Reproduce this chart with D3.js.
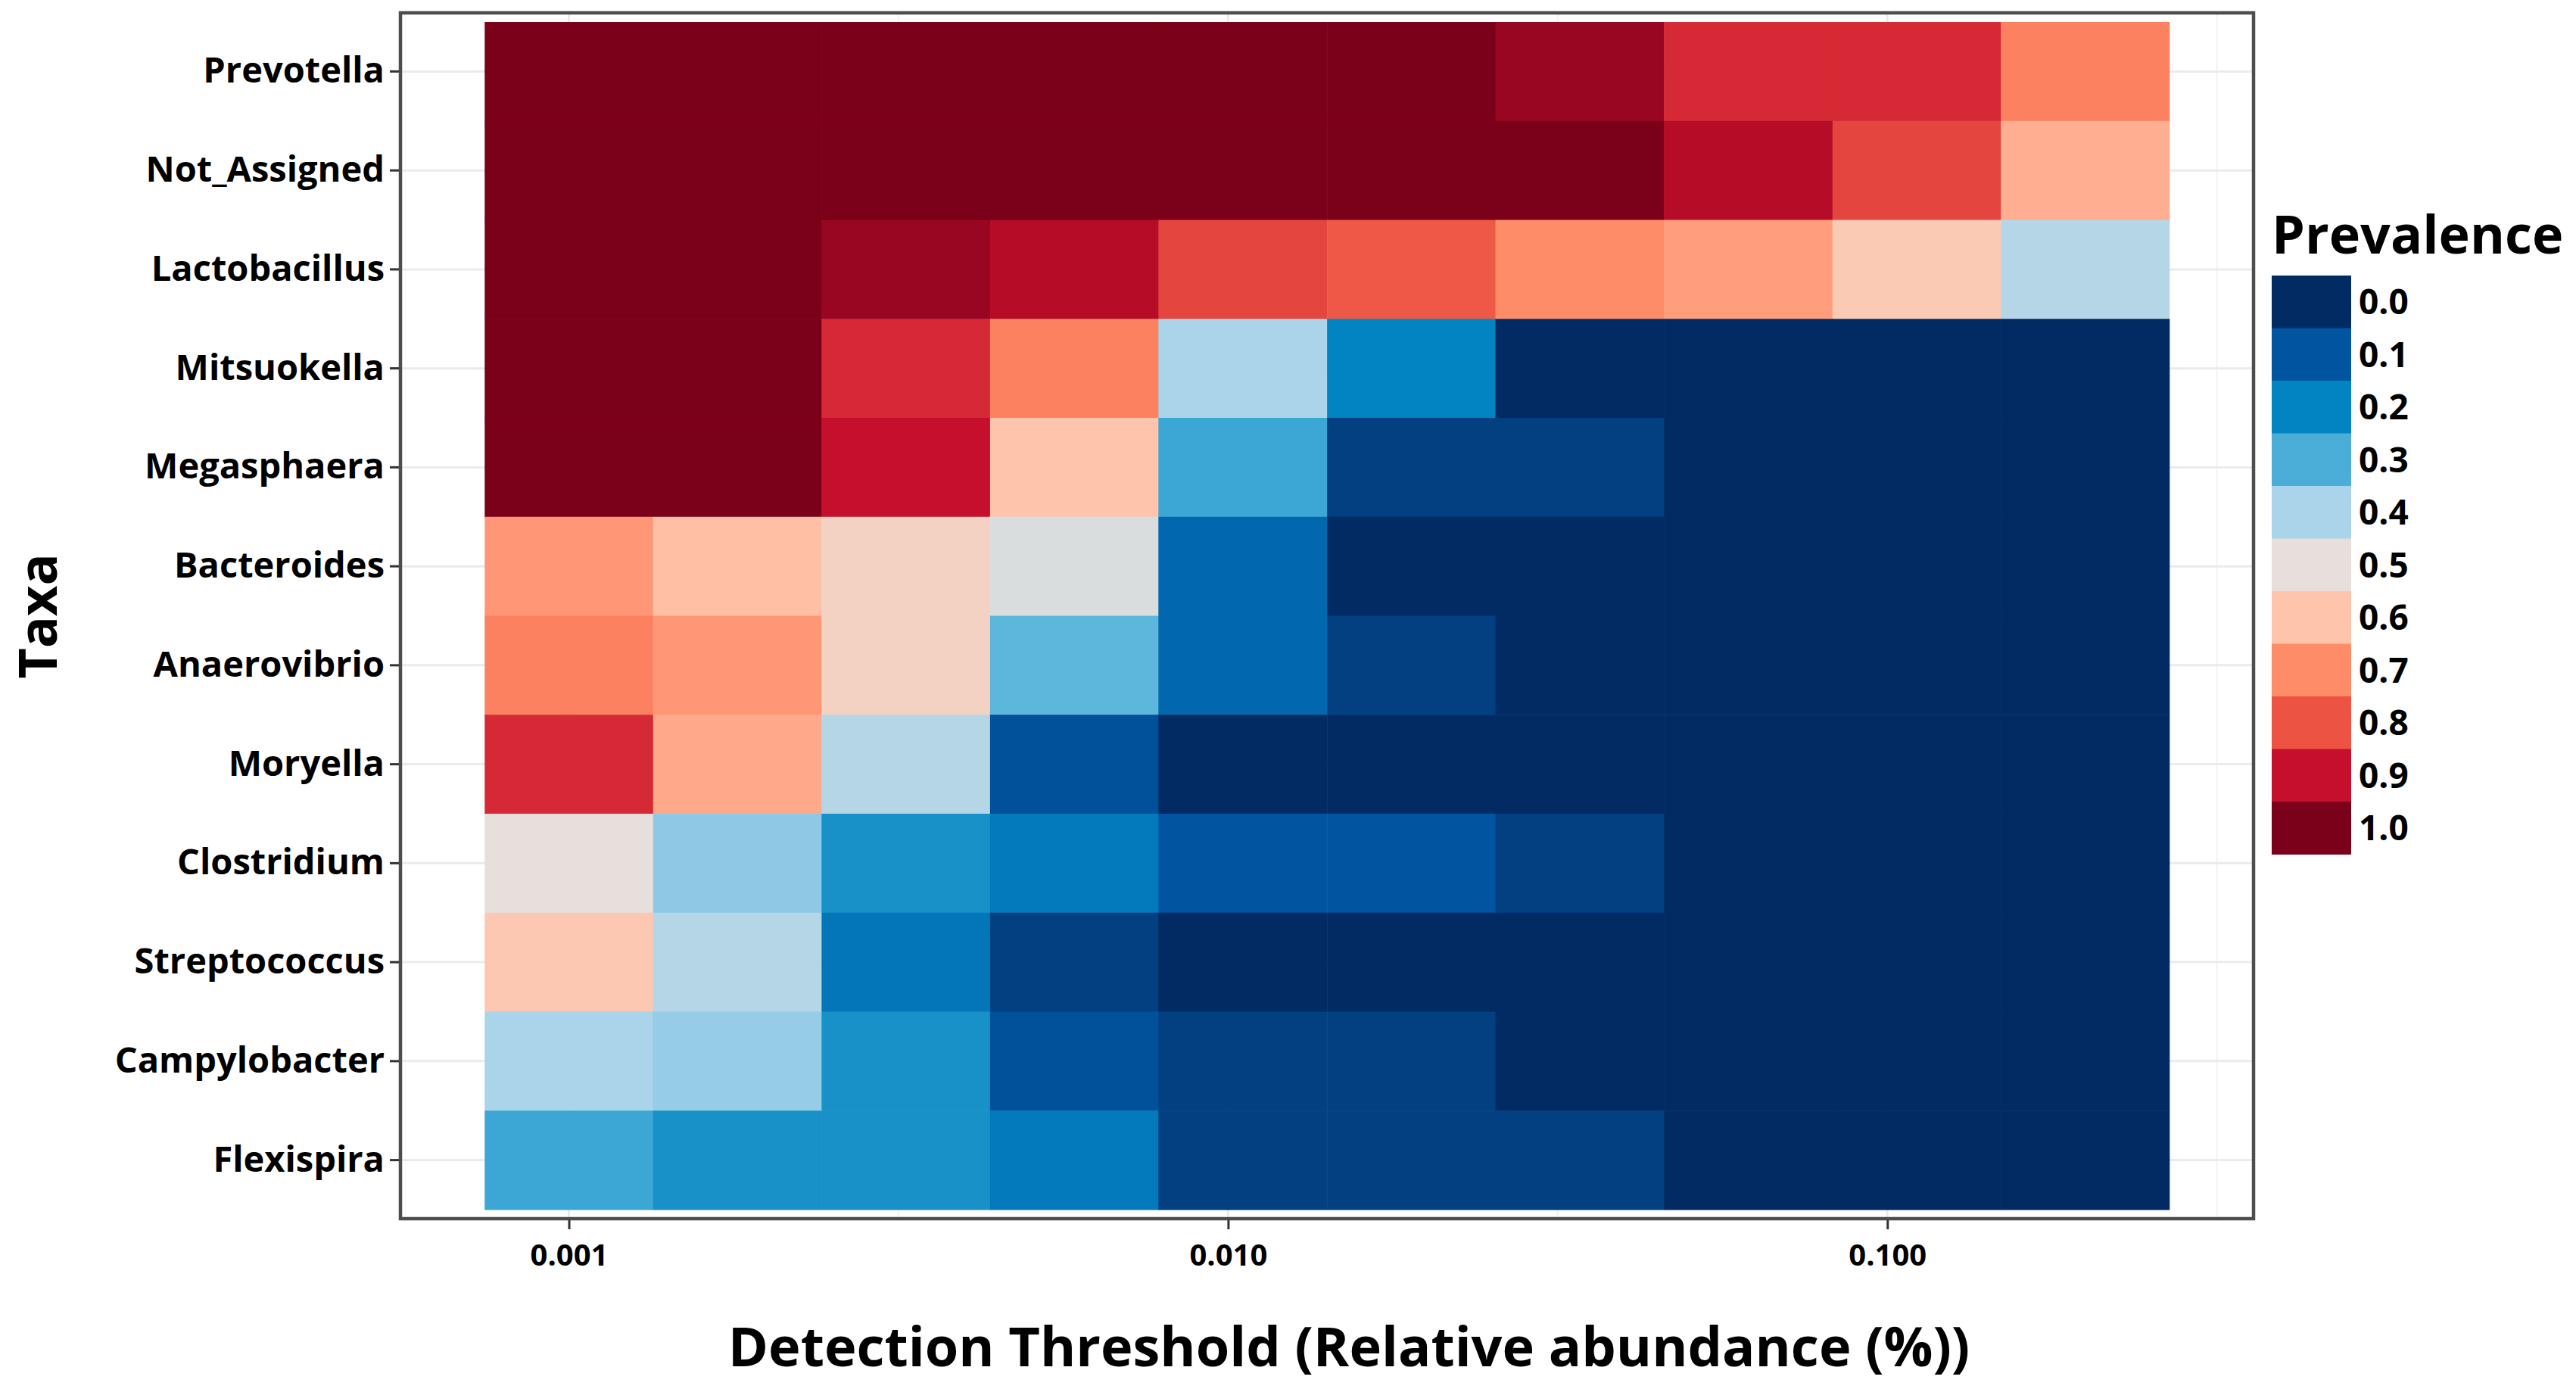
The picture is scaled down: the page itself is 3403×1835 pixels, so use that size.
<!DOCTYPE html>
<html>
<head>
<meta charset="utf-8">
<script src="https://cdn.jsdelivr.net/npm/d3@7"></script>
<style>
body{margin:0;background:#fff}
text{font-family:"Open Sans",Lato,sans-serif;font-weight:700;fill:#000}
</style>
</head>
<body>
<div id="chart"></div>
<script>
// taxa, top to bottom
const taxa = ["Prevotella","Not_Assigned","Lactobacillus","Mitsuokella","Megasphaera","Bacteroides",
  "Anaerovibrio","Moryella","Clostridium","Streptococcus","Campylobacter","Flexispira"]

// detection thresholds (relative abundance %)
const thresholds = [0.001,0.001801,0.003244,0.005843,0.01052,0.01896,0.03414,0.06149,0.1108,0.1995]

// prevalence per taxon, one value per threshold
const prevPrevotella    = [1,1,1,1,1,1,0.96,0.86,0.86,0.72]
const prevNotAssigned   = [1,1,1,1,1,1,1,0.92,0.82,0.64]
const prevLactobacillus = [1,1,0.96,0.92,0.82,0.79,0.70,0.67,0.58,0.42]
const prevMitsuokella   = [1,1,0.86,0.72,0.40,0.20,0,0,0,0]
const prevMegasphaera   = [1,1,0.90,0.60,0.28,0.05,0.05,0,0,0]
const prevBacteroides   = [0.68,0.61,0.55,0.48,0.14,0,0,0,0,0]
const prevAnaerovibrio  = [0.72,0.68,0.55,0.32,0.14,0.05,0,0,0,0]
const prevMoryella      = [0.86,0.65,0.42,0.09,0,0,0,0,0,0]
const prevClostridium   = [0.50,0.37,0.23,0.18,0.10,0.10,0.05,0,0,0]
const prevStreptococcus = [0.59,0.42,0.17,0.05,0,0,0,0,0,0]
const prevCampylobacter = [0.40,0.38,0.23,0.09,0.05,0.05,0,0,0,0]
const prevFlexispira    = [0.28,0.23,0.23,0.18,0.05,0.05,0.05,0,0,0]

const prevalence = [prevPrevotella,prevNotAssigned,prevLactobacillus,prevMitsuokella,prevMegasphaera,
  prevBacteroides,prevAnaerovibrio,prevMoryella,prevClostridium,prevStreptococcus,prevCampylobacter,prevFlexispira]

// legend
const legendBreaks = [0,0.1,0.2,0.3,0.4,0.5,0.6,0.7,0.8,0.9,1.0]
const legendColors = ["#032b63","#0154a0","#0284c2","#4aaed8","#a9d4ea","#e6dfdb",
  "#ffc5ac","#ff8c68","#ec5343","#c50f2c","#7b0019"]
const xTicks = [0.001,0.01,0.1]

const W=3403, H=1835
const panel={left:529,right:2977,top:17,bottom:1610}

const svg=d3.select("#chart").append("svg").attr("width",W).attr("height",H)

const color=d3.scaleLinear().domain(legendBreaks).range(legendColors).interpolate(d3.interpolateRgb)

// log x with ggplot style 5% expansion around the tiles
let logs=thresholds.map(d=>Math.log10(d))
let half=(logs[1]-logs[0])/2
let lo=logs[0]-half, hi=logs[logs.length-1]+half
let pad=(hi-lo)*0.05
const x=d3.scaleLog().domain([Math.pow(10,lo-pad),Math.pow(10,hi+pad)]).range([panel.left,panel.right])
const y=d3.scaleBand().domain(taxa).range([panel.top,panel.bottom]).paddingInner(0).paddingOuter(0.092)

// grid
const g=svg.append("g")
let minor=[-2.5,-1.5,-0.5]
minor.forEach(m=>{
	g.append("line").attr("x1",x(Math.pow(10,m))).attr("x2",x(Math.pow(10,m)))
	.attr("y1",panel.top).attr("y2",panel.bottom).attr("stroke","#f0f0f0").attr("stroke-width",1.5)
})
xTicks.forEach(t=>{
	g.append("line").attr("x1",x(t)).attr("x2",x(t))
	.attr("y1",panel.top).attr("y2",panel.bottom).attr("stroke","#ebebeb").attr("stroke-width",3)
})
taxa.forEach(t=>{
	let yy=y(t)+y.bandwidth()/2
	g.append("line").attr("x1",panel.left).attr("x2",panel.right)
	.attr("y1",yy).attr("y2",yy).attr("stroke","#ebebeb").attr("stroke-width",3)
})

// tiles
for(let i=0;i<taxa.length;++i)
{
	for(let j=0;j<thresholds.length;++j)
	{
		let x0=x(Math.pow(10,logs[j]-half)), x1=x(Math.pow(10,logs[j]+half))
		g.append("rect")
		.attr("x",x0).attr("y",y(taxa[i]))
		.attr("width",x1-x0+0.6).attr("height",y.bandwidth()+0.6)
		.attr("fill",color(prevalence[i][j]))
	}
}

// border
svg.append("rect").attr("x",panel.left).attr("y",panel.top)
	.attr("width",panel.right-panel.left).attr("height",panel.bottom-panel.top)
	.attr("fill","none").attr("stroke","#4d4d4d").attr("stroke-width",4.5)

// axes
const ya=svg.append("g").attr("transform",`translate(${panel.left-2},0)`)
	.call(d3.axisLeft(y).tickSize(12).tickPadding(7))
ya.select(".domain").remove()
ya.selectAll(".tick line").attr("stroke","#333").attr("stroke-width",3)
ya.selectAll(".tick text").style("font-size","47px").style("font-family","Open Sans").style("font-weight","700").attr("fill","#000")

const xa=svg.append("g").attr("transform",`translate(0,${panel.bottom+2})`)
	.call(d3.axisBottom(x).tickValues(xTicks).tickFormat(d3.format(".3f")).tickSize(12).tickPadding(20))
xa.select(".domain").remove()
xa.selectAll(".tick line").attr("stroke","#333").attr("stroke-width",3)
xa.selectAll(".tick text").style("font-size","40px").style("font-family","Open Sans").style("font-weight","700").attr("fill","#000")

// titles
svg.append("text").attr("x",1782).attr("y",1805).attr("text-anchor","middle")
	.style("font-size","72px").text("Detection Threshold (Relative abundance (%))")
svg.append("text").attr("transform","translate(75,814) rotate(-90)").attr("text-anchor","middle")
	.style("font-size","70px").text("Taxa")

// legend
const lg=svg.append("g")
lg.append("text").attr("x",3001).attr("y",335).style("font-size","70px").text("Prevalence")
let keyH=69.5
legendBreaks.forEach((b,i)=>{
	lg.append("rect").attr("x",3001).attr("y",364+i*keyH).attr("width",105).attr("height",keyH+0.5)
	.attr("fill",legendColors[i])
	lg.append("text").attr("x",3116).attr("y",364+i*keyH+keyH/2).attr("dy","0.36em")
	.style("font-size","46px").text(d3.format(".1f")(b))
})
</script>
</body>
</html>
